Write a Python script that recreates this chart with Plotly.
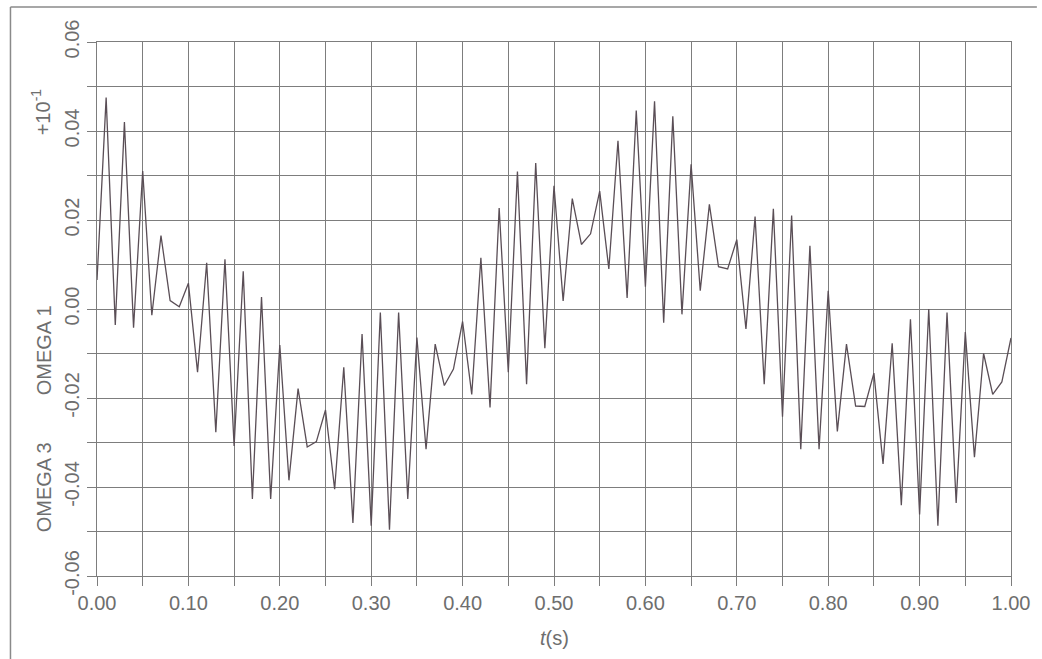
import plotly.graph_objects as go

# Time samples (s)
t = [0.00, 0.01, 0.02, 0.03, 0.04, 0.05, 0.06, 0.07, 0.08, 0.09,
     0.10, 0.11, 0.12, 0.13, 0.14, 0.15, 0.16, 0.17, 0.18, 0.19,
     0.20, 0.21, 0.22, 0.23, 0.24, 0.25, 0.26, 0.27, 0.28, 0.29,
     0.30, 0.31, 0.32, 0.33, 0.34, 0.35, 0.36, 0.37, 0.38, 0.39,
     0.40, 0.41, 0.42, 0.43, 0.44, 0.45, 0.46, 0.47, 0.48, 0.49,
     0.50, 0.51, 0.52, 0.53, 0.54, 0.55, 0.56, 0.57, 0.58, 0.59,
     0.60, 0.61, 0.62, 0.63, 0.64, 0.65, 0.66, 0.67, 0.68, 0.69,
     0.70, 0.71, 0.72, 0.73, 0.74, 0.75, 0.76, 0.77, 0.78, 0.79,
     0.80, 0.81, 0.82, 0.83, 0.84, 0.85, 0.86, 0.87, 0.88, 0.89,
     0.90, 0.91, 0.92, 0.93, 0.94, 0.95, 0.96, 0.97, 0.98, 0.99,
     1.00]

# OMEGA 3 / OMEGA 1 (x10^-1)
omega = [0.0065, 0.0475, -0.0036, 0.0420, -0.0042, 0.0310, -0.0014, 0.0165, 0.0019, 0.0005,
         0.0058, -0.0142, 0.0104, -0.0277, 0.0112, -0.0308, 0.0085, -0.0427, 0.0027, -0.0427,
         -0.0081, -0.0385, -0.0179, -0.0310, -0.0298, -0.0227, -0.0405, -0.0131, -0.0481, -0.0056,
         -0.0487, -0.0008, -0.0496, -0.0008, -0.0427, -0.0064, -0.0315, -0.0079, -0.0172, -0.0135,
         -0.0028, -0.0192, 0.0115, -0.0221, 0.0227, -0.0142, 0.0309, -0.0169, 0.0328, -0.0088,
         0.0277, 0.0018, 0.0248, 0.0145, 0.0169, 0.0265, 0.0090, 0.0378, 0.0025, 0.0446,
         0.0050, 0.0467, -0.0031, 0.0433, -0.0012, 0.0325, 0.0041, 0.0235, 0.0095, 0.0090,
         0.0156, -0.0045, 0.0208, -0.0169, 0.0225, -0.0242, 0.0210, -0.0315, 0.0142, -0.0315,
         0.0041, -0.0275, -0.0079, -0.0218, -0.0219, -0.0144, -0.0348, -0.0077, -0.0441, -0.0023,
         -0.0462, 0.0000, -0.0487, -0.0008, -0.0436, -0.0052, -0.0333, -0.0100, -0.0192, -0.0164,
         -0.0065]

x_tickvals = [0.0, 0.1, 0.2, 0.3, 0.4, 0.5, 0.6, 0.7, 0.8, 0.9, 1.0]
x_ticktext = ["0.00", "0.10", "0.20", "0.30", "0.40", "0.50", "0.60", "0.70", "0.80", "0.90", "1.00"]
y_tickvals = [-0.06, -0.04, -0.02, 0.0, 0.02, 0.04, 0.06]
y_ticktext = ["-0.06", "-0.04", "-0.02", "0.00", "0.02", "0.04", "0.06"]

GRID = "#7d7d7d"
LABEL = "#6e6e6e"
FONT = "Liberation Sans, Arial, sans-serif"

fig = go.Figure()
fig.add_trace(go.Scatter(x=t, y=omega, mode="lines",
                         line=dict(color="#5a4e56", width=1.3),
                         showlegend=False, hoverinfo="skip"))

W, H = 1042, 659
L, R, T, B = 97, 26, 42, 83
pw, ph = W - L - R, H - T - B

def px(xp):
    return (xp - L) / pw

def py(yp):
    return (H - B - yp) / ph

fig.update_layout(
    width=W, height=H,
    margin=dict(l=L, r=R, t=T, b=B, pad=0),
    paper_bgcolor="white", plot_bgcolor="white",
    font=dict(family=FONT, color=LABEL, size=20),
    xaxis=dict(range=[0, 1], tickmode="array", tickvals=x_tickvals, ticktext=x_ticktext,
               showgrid=True, gridcolor=GRID, gridwidth=1, zeroline=False,
               showline=True, linecolor=GRID, linewidth=1, mirror=True,
               ticks="outside", ticklen=9, tickcolor=GRID, tickwidth=1,
               tickfont=dict(size=20, color=LABEL, family=FONT),
               minor=dict(tickmode="linear", tick0=0, dtick=0.05, showgrid=True,
                          gridcolor=GRID, gridwidth=1, ticks="outside", ticklen=9,
                          tickcolor=GRID, tickwidth=1)),
    yaxis=dict(range=[-0.06, 0.06], tickmode="array", tickvals=y_tickvals, ticktext=y_ticktext,
               tickangle=-90,
               showgrid=True, gridcolor=GRID, gridwidth=1, zeroline=False,
               showline=True, linecolor=GRID, linewidth=1, mirror=True,
               ticks="outside", ticklen=9, tickcolor=GRID, tickwidth=1,
               tickfont=dict(size=20, color=LABEL, family=FONT),
               minor=dict(tickmode="linear", tick0=0, dtick=0.01, showgrid=True,
                          gridcolor=GRID, gridwidth=1, ticks="outside", ticklen=9,
                          tickcolor=GRID, tickwidth=1)),
)

annots = [
    dict(text="OMEGA 3", x=px(44), y=py(487), textangle=-90),
    dict(text="OMEGA 1", x=px(44), y=py(350), textangle=-90),
    dict(text="+10<sup>-1</sup>", x=px(40), y=py(112), textangle=-90),
    dict(text="<i>t</i>(s)", x=0.5, y=py(638), textangle=0),
]
for a in annots:
    fig.add_annotation(text=a["text"], x=a["x"], y=a["y"], xref="paper", yref="paper",
                       xanchor="center", yanchor="middle", showarrow=False,
                       textangle=a["textangle"],
                       font=dict(size=20, color=LABEL, family=FONT))

# scanned figure frame (left and top border)
fig.add_shape(type="line", xref="paper", yref="paper", x0=px(10), x1=px(10), y0=py(7), y1=py(659),
              line=dict(color="#8a8a8a", width=1.5))
fig.add_shape(type="line", xref="paper", yref="paper", x0=px(10), x1=px(1042), y0=py(7), y1=py(7),
              line=dict(color="#8a8a8a", width=1.5))

fig.write_html("out.html")
